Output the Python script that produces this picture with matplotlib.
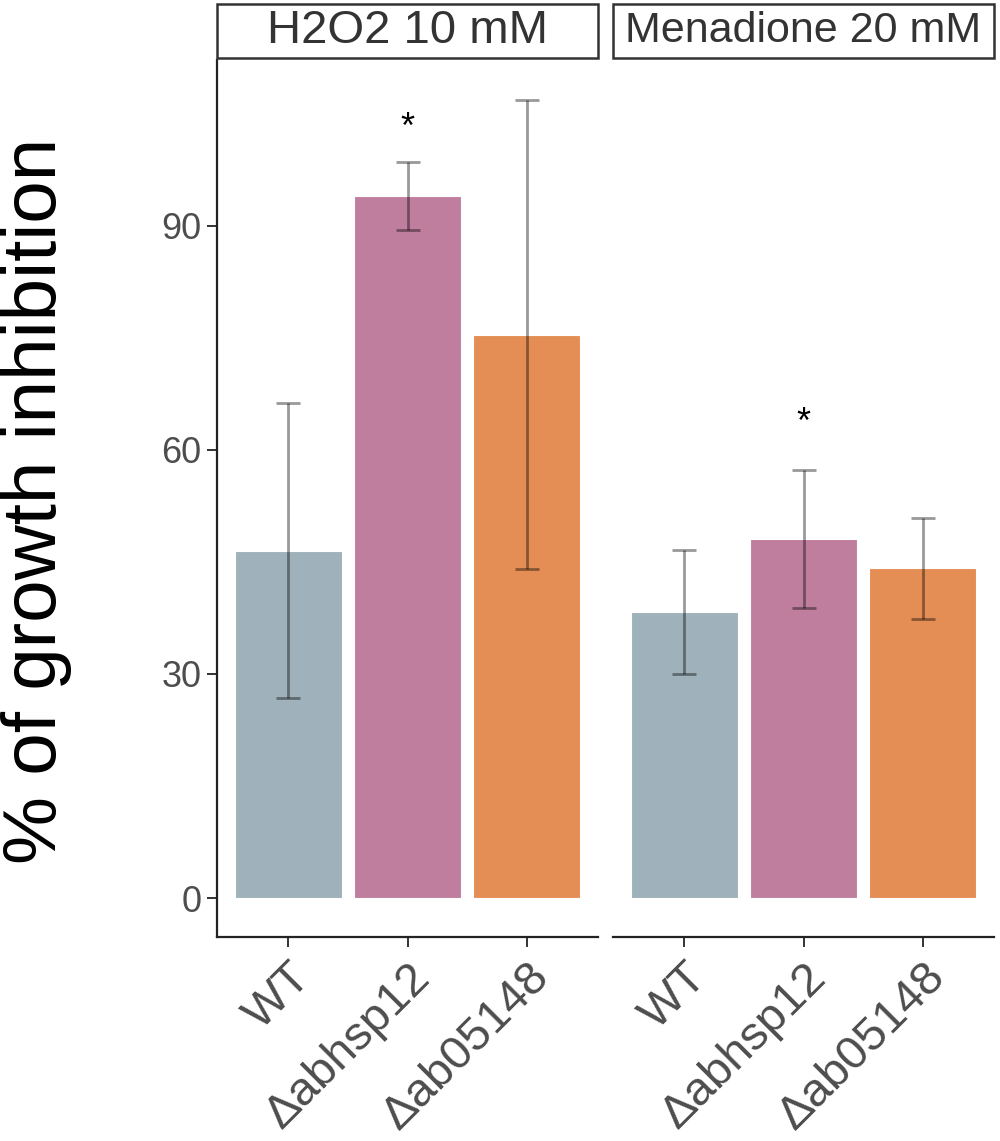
import numpy as np
import matplotlib
matplotlib.use("Agg")
import matplotlib.pyplot as plt
from matplotlib.patches import Rectangle

plt.rcParams['font.family'] = ['Liberation Sans', 'DejaVu Sans']

# data
strains = ["WT", "Δabhsp12", "Δab05148"]
panels = ["H2O2 10 mM", "Menadione 20 mM"]
h2o2_mean = [46.5, 94.0, 75.4]
h2o2_low = [26.8, 89.5, 44.1]
h2o2_high = [66.3, 98.6, 106.9]
mena_mean = [38.3, 48.1, 44.2]
mena_low = [30.0, 38.8, 37.4]
mena_high = [46.6, 57.3, 50.9]
# significance marks: (strain index, y)
h2o2_sig = [(1, 103.1)]
mena_sig = [(1, 63.6)]

colors = ["#9FB1BA", "#C07E9E", "#E48E55"]

W, H = 1000, 1141
fig = plt.figure(figsize=(W / 100, H / 100), dpi=100)


def px_axes(x0, y0, x1, y1):
    return fig.add_axes([x0 / W, 1 - y1 / H, (x1 - x0) / W, (y1 - y0) / H])


def strip(x0, x1, label, size):
    y0, y1 = 4, 58
    r = Rectangle((x0 / W, 1 - y1 / H), (x1 - x0) / W, (y1 - y0) / H,
                  transform=fig.transFigure, fill=False, edgecolor="#333333", lw=1.8)
    fig.add_artist(r)
    fig.text((x0 + x1) / 2 / W, 1 - (y0 + y1) / 2 / H, label, ha="center", va="center",
             fontsize=size, color="#333333")


def draw_panel(ax, mean, low, high, sig, first):
    x = np.arange(1, len(strains) + 1)
    ax.bar(x, mean, width=0.9, color=colors, edgecolor="white", linewidth=0.8, zorder=2)
    mean = np.array(mean)
    yerr = [mean - np.array(low), np.array(high) - mean]
    ax.errorbar(x, mean, yerr=yerr, fmt="none", ecolor=(0, 0, 0, 0.4),
                elinewidth=2.0, capsize=8.6, capthick=2.0, zorder=3)
    for i, y in sig:
        ax.text(x[i], y, "*", ha="center", va="center", fontsize=26, color="black")
    ax.set_xlim(0.4, 3.6)
    ax.set_ylim(-5.22, 112.2)
    ax.set_xticks(x)
    ax.set_xticklabels(strains, rotation=45, ha="right", rotation_mode="anchor",
                       fontsize=34, color="#4D4D4D")
    for s in ["top", "right"]:
        ax.spines[s].set_visible(False)
    ax.spines["bottom"].set_linewidth(1.6)
    ax.spines["bottom"].set_color("#222222")
    ax.tick_params(axis="x", length=7, width=1.4, color="#333333", pad=6)
    if first:
        ax.spines["left"].set_linewidth(1.6)
        ax.spines["left"].set_color("#222222")
        ax.set_yticks([0, 30, 60, 90])
        ax.tick_params(axis="y", length=7, width=1.4, color="#333333", pad=4,
                       labelsize=26, labelcolor="#4D4D4D")
    else:
        ax.spines["left"].set_visible(False)
        ax.set_yticks([])


ax1 = px_axes(217, 60, 598, 937)
ax2 = px_axes(613, 60, 994, 937)
draw_panel(ax1, h2o2_mean, h2o2_low, h2o2_high, h2o2_sig, True)
draw_panel(ax2, mena_mean, mena_low, mena_high, mena_sig, False)

strip(217, 598, panels[0], 34)
strip(613, 994, panels[1], 31)

fig.text(37 / W, 1 - 501 / H, "% of growth inhibition", rotation=90, ha="center",
         va="center", fontsize=55, color="black")

fig.savefig("out.png", dpi=100)
